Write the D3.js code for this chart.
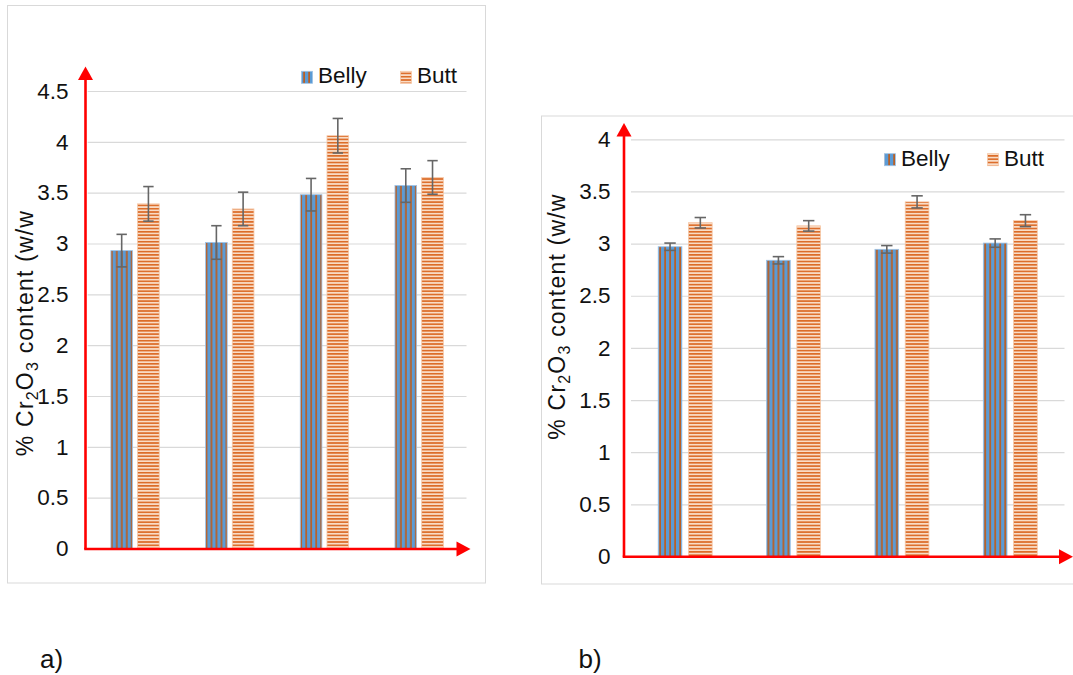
<!DOCTYPE html>
<html>
<head>
<meta charset="utf-8">
<script src="https://cdn.jsdelivr.net/npm/d3@7"></script>
<style>
  html, body { margin: 0; padding: 0; background: #ffffff; }
  svg { display: block; font-family: "Liberation Sans", Arial, sans-serif; }
</style>
</head>
<body>
<svg id="chart" width="1073" height="675"></svg>
<script>
// Sampling groups (no category labels are shown on the x axis)
const groups = ["1", "2", "3", "4"];
const seriesNames = ["Belly", "Butt"];

// Panel a) – Cr2O3 content, mean and error
const bellyA    = [2.93, 3.01, 3.48, 3.57];
const bellyErrA = [0.16, 0.165, 0.16, 0.165];
const buttA     = [3.39, 3.34, 4.06, 3.65];
const buttErrA  = [0.17, 0.165, 0.17, 0.165];
const ticksA    = [0, 0.5, 1, 1.5, 2, 2.5, 3, 3.5, 4, 4.5];

// Panel b) – Cr2O3 content, mean and error
const bellyB    = [2.97, 2.84, 2.945, 3.005];
const bellyErrB = [0.035, 0.035, 0.036, 0.04];
const buttB     = [3.20, 3.17, 3.40, 3.22];
const buttErrB  = [0.05, 0.05, 0.058, 0.057];
const ticksB    = [0, 0.5, 1, 1.5, 2, 2.5, 3, 3.5, 4];

const panelLabels = ["a)", "b)"];
const yTitle = ["% Cr", "2", "O", "3", " content (w/w"];

const svg = d3.select("#chart");
const defs = svg.append("defs");

// Striped fills: blue with vertical orange lines, orange horizontal stripes
const pBelly = defs.append("pattern").attr("id", "pBelly")
  .attr("patternUnits", "userSpaceOnUse").attr("width", 5).attr("height", 5);
pBelly.append("rect").attr("width", 5).attr("height", 5).attr("fill", "#5b9bd5");
pBelly.append("rect").attr("x", 3.3).attr("width", 1.6).attr("height", 5).attr("fill", "#c55a11");

const pButt = defs.append("pattern").attr("id", "pButt")
  .attr("patternUnits", "userSpaceOnUse").attr("width", 5).attr("height", 3.3);
pButt.append("rect").attr("width", 5).attr("height", 3.3).attr("fill", "#f9dcc6");
pButt.append("rect").attr("y", 0).attr("width", 5).attr("height", 1.6).attr("fill", "#dc6b27");

const fills = { Belly: "url(#pBelly)", Butt: "url(#pButt)" };
const edges = { Belly: "#9cc2e6", Butt: "#f6c7a6" };

function drawPanel(cfg) {
  const g = svg.append("g");

  // panel frame
  g.append("rect")
    .attr("x", cfg.frame[0]).attr("y", cfg.frame[1])
    .attr("width", cfg.frame[2]).attr("height", cfg.frame[3])
    .attr("fill", "none").attr("stroke", "#d9d9d9").attr("stroke-width", 1);

  const y = d3.scaleLinear().domain([0, cfg.yMax]).range([cfg.y0, cfg.yTop]);
  const x0 = d3.scaleBand().domain(groups).range([cfg.xL, cfg.xR]).padding(0);
  const bw = x0.bandwidth();
  const x1 = d3.scaleBand().domain(seriesNames)
    .range([bw * (0.5 - cfg.groupFrac), bw * (0.5 + cfg.groupFrac)])
    .paddingInner(cfg.innerPad).paddingOuter(0);

  // gridlines
  g.append("g")
    .attr("transform", `translate(${cfg.xL},0)`)
    .call(d3.axisLeft(y).tickValues(cfg.ticks.filter(t => t > 0)).tickSize(-(cfg.xR - cfg.xL)).tickFormat(""))
    .call(s => s.select(".domain").remove())
    .call(s => s.selectAll("line").attr("stroke", "#d9d9d9").attr("stroke-width", 1.2));

  // tick labels
  g.append("g")
    .attr("transform", `translate(${cfg.axisX},0)`)
    .call(d3.axisLeft(y).tickValues(cfg.ticks).tickSize(0).tickPadding(cfg.labelPad).tickFormat(d3.format("")))
    .call(s => s.select(".domain").remove())
    .call(s => s.selectAll("text")
      .attr("fill", "#111111")
      .attr("font-size", 22.5)
      .attr("font-family", "'Liberation Sans', Arial, sans-serif"));

  // bars
  const rows = groups.map((grp, i) => ({
    grp,
    items: [
      { name: "Belly", v: cfg.belly[i], e: cfg.bellyErr[i] },
      { name: "Butt",  v: cfg.butt[i],  e: cfg.buttErr[i] }
    ]
  }));

  const gg = g.selectAll(".grp").data(rows).join("g")
    .attr("transform", d => `translate(${x0(d.grp)},0)`);

  gg.selectAll("rect").data(d => d.items).join("rect")
    .attr("x", d => x1(d.name))
    .attr("width", x1.bandwidth())
    .attr("y", d => y(d.v))
    .attr("height", d => y(0) - y(d.v))
    .attr("fill", d => fills[d.name])
    .attr("stroke", d => edges[d.name])
    .attr("stroke-width", 0.8);

  // error bars
  const eb = gg.selectAll(".eb").data(d => d.items).join("g")
    .attr("stroke", "#666666").attr("stroke-width", 1.6);
  eb.append("line")
    .attr("x1", d => x1(d.name) + x1.bandwidth() / 2)
    .attr("x2", d => x1(d.name) + x1.bandwidth() / 2)
    .attr("y1", d => y(d.v - d.e)).attr("y2", d => y(d.v + d.e));
  [1, -1].forEach(sign => {
    eb.append("line")
      .attr("x1", d => x1(d.name) + x1.bandwidth() / 2 - cfg.cap)
      .attr("x2", d => x1(d.name) + x1.bandwidth() / 2 + cfg.cap)
      .attr("y1", d => y(d.v + sign * d.e)).attr("y2", d => y(d.v + sign * d.e));
  });

  // red axes with arrow heads
  const red = "#ff0000";
  g.append("line")
    .attr("x1", cfg.axisX).attr("x2", cfg.axisX)
    .attr("y1", cfg.axisY).attr("y2", cfg.arrowTop + 12)
    .attr("stroke", red).attr("stroke-width", 2.6);
  g.append("line")
    .attr("x1", cfg.axisX - 1.3).attr("x2", cfg.arrowRight - 12)
    .attr("y1", cfg.axisY).attr("y2", cfg.axisY)
    .attr("stroke", red).attr("stroke-width", 2.6);
  g.append("path")
    .attr("d", `M${cfg.axisX},${cfg.arrowTop} L${cfg.axisX - 7.5},${cfg.arrowTop + 13.5} L${cfg.axisX + 7.5},${cfg.arrowTop + 13.5} Z`)
    .attr("fill", red);
  g.append("path")
    .attr("d", `M${cfg.arrowRight},${cfg.axisY} L${cfg.arrowRight - 14},${cfg.axisY - 7.5} L${cfg.arrowRight - 14},${cfg.axisY + 7.5} Z`)
    .attr("fill", red);

  // y-axis title with subscripts
  const t = g.append("text")
    .attr("transform", `translate(${cfg.titleX},${cfg.titleY}) rotate(-90)`)
    .attr("text-anchor", "middle")
    .attr("font-size", 23)
    .attr("letter-spacing", 1.2)
    .attr("fill", "#111111");
  yTitle.forEach((part, i) => {
    const sub = i === 1 || i === 3;
    const ts = t.append("tspan").text(part);
    if (sub) ts.attr("font-size", 16).attr("dy", 5);
    else if (i > 0) ts.attr("dy", -5);
  });

  // legend
  const lg = g.append("g").attr("font-size", 22.5).attr("fill", "#111111");
  seriesNames.forEach((name, i) => {
    const lx = cfg.legendX[i];
    lg.append("rect")
      .attr("x", lx).attr("y", cfg.legendY - 12)
      .attr("width", 11).attr("height", 12)
      .attr("fill", fills[name]).attr("stroke", edges[name]).attr("stroke-width", 0.8);
    lg.append("text").attr("x", lx + 16.5).attr("y", cfg.legendY).text(name);
  });

  // panel label
  g.append("text")
    .attr("x", cfg.labelX).attr("y", 668)
    .attr("font-size", 26).attr("fill", "#111111")
    .text(cfg.label);
}

drawPanel({
  frame: [7.5, 5.5, 478, 577.5],
  yMax: 4.5, ticks: ticksA, y0: 548.5, yTop: 91,
  xL: 87.7, xR: 466.5, groupFrac: 0.2555, innerPad: 0.19, cap: 5.2,
  axisX: 85.5, axisY: 549, arrowTop: 66.5, arrowRight: 470.5, labelPad: 17,
  belly: bellyA, bellyErr: bellyErrA, butt: buttA, buttErr: buttErrA,
  titleX: 33, titleY: 333,
  legendX: [301.5, 400.5], legendY: 83.3,
  labelX: 40, label: panelLabels[0]
});

drawPanel({
  frame: [541.5, 116, 560, 468],
  yMax: 4, ticks: ticksB, y0: 556.5, yTop: 139.3,
  xL: 631, xR: 1064.5, groupFrac: 0.249, innerPad: 0.217, cap: 5.7,
  axisX: 624, axisY: 556.8, arrowTop: 123, arrowRight: 1073, labelPad: 13.5,
  belly: bellyB, bellyErr: bellyErrB, butt: buttB, buttErr: buttErrB,
  titleX: 565, titleY: 316.5,
  legendX: [884.5, 987.5], legendY: 165.7,
  labelX: 578.5, label: panelLabels[1]
});
</script>
</body>
</html>
